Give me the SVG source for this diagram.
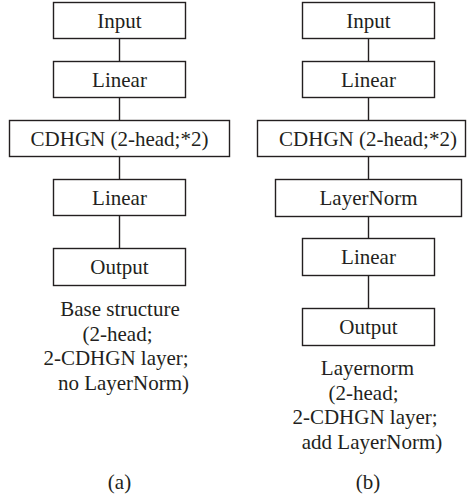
<svg xmlns="http://www.w3.org/2000/svg" width="468" height="500" viewBox="0 0 468 500">
<style>
  .box rect { fill: #fff; stroke: #231f20; stroke-width: 1.4; }
  text { font-family: "Liberation Serif", "Times New Roman", serif; font-size: 21px; fill: #231f20; text-anchor: middle; }
  .conn line { stroke: #231f20; stroke-width: 1.4; }
</style>
<rect width="468" height="500" fill="#fff"/>
<g class="conn" id="connectors">
  <line x1="119.5" y1="38.5" x2="119.5" y2="61.5"/>
  <line x1="119.5" y1="97.5" x2="119.5" y2="120.5"/>
  <line x1="119.5" y1="156.5" x2="119.5" y2="179.5"/>
  <line x1="119.5" y1="215.5" x2="119.5" y2="248.5"/>
  <line x1="368.5" y1="38.5" x2="368.5" y2="61.5"/>
  <line x1="368.5" y1="97.5" x2="368.5" y2="120.5"/>
  <line x1="368.5" y1="156.5" x2="368.5" y2="179.5"/>
  <line x1="368.5" y1="216.5" x2="368.5" y2="238.5"/>
  <line x1="368.5" y1="275.5" x2="368.5" y2="308.5"/>
</g>
<g class="box" id="a-input"><rect x="53.5" y="2.5" width="132" height="36"/><text x="119.5" y="27.5">Input</text></g>
<g class="box" id="a-linear1"><rect x="53.5" y="61.5" width="132" height="36"/><text x="119.5" y="86.5">Linear</text></g>
<g class="box" id="a-cdhgn"><rect x="9.5" y="120.5" width="220" height="36"/><text x="119.5" y="145.5">CDHGN (2-head;*2)</text></g>
<g class="box" id="a-linear2"><rect x="53.5" y="179.5" width="132" height="36"/><text x="119.5" y="204.5">Linear</text></g>
<g class="box" id="a-output"><rect x="53.5" y="248.5" width="132" height="37"/><text x="119.5" y="274">Output</text></g>
<g id="a-caption">
  <text x="120" y="316">Base structure</text>
  <text x="117.5" y="340.5">(2-head;</text>
  <text x="116" y="365">2-CDHGN layer;</text>
  <text x="123.5" y="389.5">no LayerNorm)</text>
  <text x="119.5" y="489">(a)</text>
</g>
<g class="box" id="b-input"><rect x="302.5" y="2.5" width="132" height="36"/><text x="368.5" y="27.5">Input</text></g>
<g class="box" id="b-linear1"><rect x="302.5" y="61.5" width="132" height="36"/><text x="368.5" y="86.5">Linear</text></g>
<g class="box" id="b-cdhgn"><rect x="257.5" y="120.5" width="208" height="36"/><text x="368" y="145.5">CDHGN (2-head;*2)</text></g>
<g class="box" id="b-layernorm"><rect x="275.5" y="179.5" width="186" height="37"/><text x="368.5" y="205">LayerNorm</text></g>
<g class="box" id="b-linear2"><rect x="302.5" y="238.5" width="132" height="37"/><text x="368.5" y="264">Linear</text></g>
<g class="box" id="b-output"><rect x="302.5" y="308.5" width="132" height="37"/><text x="368.5" y="334">Output</text></g>
<g id="b-caption">
  <text x="367.5" y="375">Layernorm</text>
  <text x="363.5" y="399.5">(2-head;</text>
  <text x="365" y="424">2-CDHGN layer;</text>
  <text x="372" y="448.5">add LayerNorm)</text>
  <text x="368" y="489">(b)</text>
</g>
</svg>
